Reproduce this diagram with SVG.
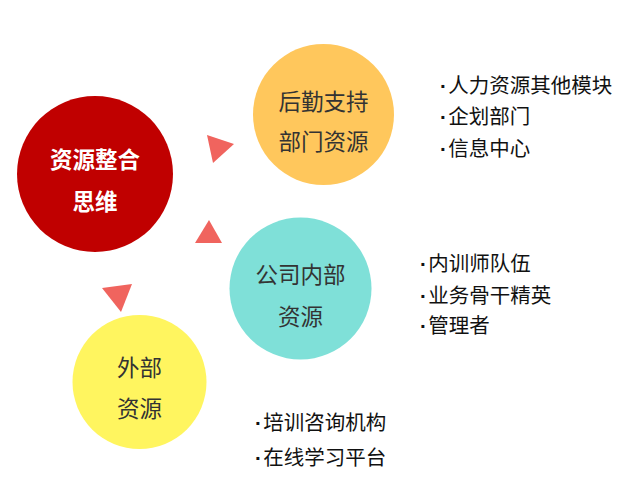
<svg xmlns="http://www.w3.org/2000/svg" width="637" height="503" viewBox="0 0 637 503">
<style>
.c{font-family:"Noto Sans CJK SC","Noto Sans",sans-serif;font-size:22.5px;fill:#333333;text-anchor:middle;dominant-baseline:central}
.w{fill:#ffffff;font-weight:bold}
.l{font-family:"Noto Sans CJK SC","Noto Sans",sans-serif;font-size:20.5px;fill:#111111}
.d{font-family:"Liberation Sans",sans-serif;font-weight:bold}
.t{fill:#F0645E}
</style>
<rect width="637" height="503" fill="#ffffff"/>
<g id="connectors">
<polygon class="t" points="207,135 234,144 213,163"/>
<polygon class="t" points="209,220 195,243 222,243"/>
<polygon class="t" points="102,288 132,284 121,312"/>
</g>
<g id="node-core">
<circle cx="95" cy="174" r="78" fill="#C00000"/>
<text class="c w" x="95" y="158">资源整合</text>
<text class="c w" x="95" y="200">思维</text>
</g>
<g id="node-logistics">
<circle cx="323.5" cy="114.5" r="70.5" fill="#FFC75C"/>
<text class="c" x="323.5" y="100">后勤支持</text>
<text class="c" x="323.5" y="140">部门资源</text>
</g>
<g id="node-internal">
<circle cx="300.5" cy="288.5" r="71" fill="#7FE0D8"/>
<text class="c" x="300.5" y="273">公司内部</text>
<text class="c" x="300.5" y="315">资源</text>
</g>
<g id="node-external">
<circle cx="139.5" cy="382" r="67" fill="#FFF55F"/>
<text class="c" x="139.5" y="366">外部</text>
<text class="c" x="139.5" y="407">资源</text>
</g>
<g id="list-logistics">
<text class="l" x="440" y="92.5"><tspan class="d">·</tspan><tspan dx="1.5">人力资源其他模块</tspan></text>
<text class="l" x="440" y="123.5"><tspan class="d">·</tspan><tspan dx="1.5">企划部门</tspan></text>
<text class="l" x="440" y="155.5"><tspan class="d">·</tspan><tspan dx="1.5">信息中心</tspan></text>
</g>
<g id="list-internal">
<text class="l" x="420" y="270.5"><tspan class="d">·</tspan><tspan dx="1.5">内训师队伍</tspan></text>
<text class="l" x="420" y="302.5"><tspan class="d">·</tspan><tspan dx="1.5">业务骨干精英</tspan></text>
<text class="l" x="420" y="332.5"><tspan class="d">·</tspan><tspan dx="1.5">管理者</tspan></text>
</g>
<g id="list-external">
<text class="l" x="255" y="429.5"><tspan class="d">·</tspan><tspan dx="1.5">培训咨询机构</tspan></text>
<text class="l" x="255" y="464.5"><tspan class="d">·</tspan><tspan dx="1.5">在线学习平台</tspan></text>
</g>
</svg>
